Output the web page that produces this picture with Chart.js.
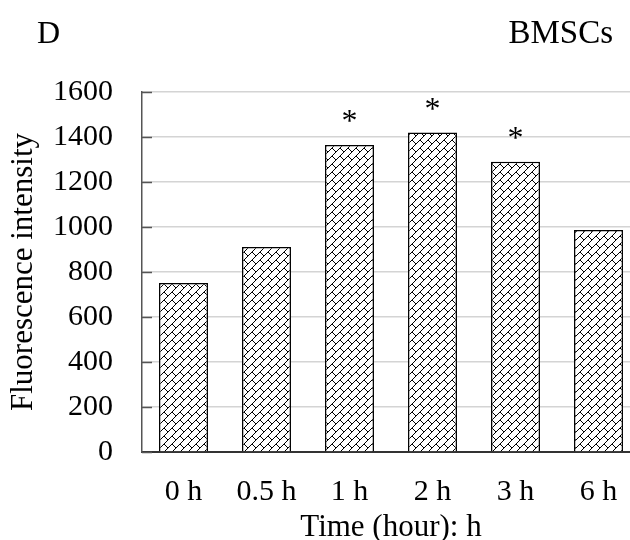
<!DOCTYPE html>
<html>
<head>
<meta charset="utf-8">
<script src="https://cdn.jsdelivr.net/npm/chart.js@4"></script>
<style>
  html, body { margin: 0; padding: 0; background: #fff; overflow: hidden; }
  #wrap { width: 630px; height: 540px; overflow: hidden; }
</style>
</head>
<body>
<div id="wrap"><canvas id="chart" width="640" height="540"></canvas></div>
<script>
const categories = ["0 h", "0.5 h", "1 h", "2 h", "3 h", "6 h"];
const values = [751, 911, 1364, 1420, 1290, 987];
const stars = ["", "", "*", "*", "*", ""];
const yMin = 0, yMax = 1600, yStep = 200;

const FONT = "'Liberation Serif', 'Times New Roman', serif";

// brick-like diagonal hatch
function makePattern() {
  const c = document.createElement("canvas");
  c.width = 8; c.height = 8;
  const g = c.getContext("2d");
  g.fillStyle = "#fff";
  g.fillRect(0, 0, 8, 8);
  g.strokeStyle = "#000";
  g.lineWidth = 1;
  g.beginPath();
  g.moveTo(-1, 9); g.lineTo(9, -1);
  g.moveTo(-1, 1); g.lineTo(1, -1);
  g.moveTo(7, 9); g.lineTo(9, 7);
  g.moveTo(4, 4); g.lineTo(8, 8);
  g.stroke();
  return g.createPattern(c, "repeat");
}

const extras = {
  id: "extras",
  afterDatasetsDraw(chart) {
    const ctx = chart.ctx;
    const y = chart.scales.y;
    const area = chart.chartArea;
    ctx.save();
    // inward tick marks on the y axis
    ctx.strokeStyle = "#555";
    ctx.lineWidth = 1.5;
    y.ticks.forEach(t => {
      const py = Math.round(y.getPixelForValue(t.value)) + 0.5;
      ctx.beginPath();
      ctx.moveTo(area.left, py);
      ctx.lineTo(area.left + 10, py);
      ctx.stroke();
    });
    // asterisks
    ctx.fillStyle = "#000";
    ctx.font = "32px " + FONT;
    ctx.textAlign = "center";
    ctx.textBaseline = "alphabetic";
    chart.getDatasetMeta(0).data.forEach((bar, i) => {
      if (stars[i]) ctx.fillText(stars[i], bar.x, bar.y - 14);
    });
    // panel letter and cell type
    ctx.font = "32px " + FONT;
    ctx.textAlign = "left";
    ctx.fillText("D", 37, 43);
    ctx.font = "33px " + FONT;
    ctx.textAlign = "right";
    ctx.fillText("BMSCs", 613, 43);
    ctx.restore();
  }
};

new Chart(document.getElementById("chart"), {
  type: "bar",
  data: {
    labels: categories,
    datasets: [{
      data: values,
      backgroundColor: makePattern(),
      borderColor: "#000",
      borderWidth: 1.5,
      barPercentage: 0.59,
      categoryPercentage: 1
    }]
  },
  options: {
    responsive: false,
    animation: false,
    layout: { padding: { top: 92, left: 0, right: 0, bottom: 0 } },
    plugins: { legend: { display: false }, tooltip: { enabled: false } },
    scales: {
      x: {
        afterFit: s => { s.height = 88; },
        grid: { display: false, drawTicks: false },
        border: { color: "#333", width: 2 },
        ticks: { color: "#000", font: { family: FONT, size: 30 }, padding: 22, maxRotation: 0 },
        title: { display: true, text: "Time (hour): h", color: "#000", font: { family: FONT, size: 31 }, padding: { top: 0, bottom: -6 } }
      },
      y: {
        min: yMin, max: yMax,
        afterFit: s => { s.width = 142; },
        grid: { color: "#d4d4d4", lineWidth: 1.5, drawTicks: false },
        border: { color: "#555", width: 1.5 },
        ticks: { stepSize: yStep, color: "#000", font: { family: FONT, size: 30 }, padding: 29, callback: v => String(v) },
        title: { display: true, text: "Fluorescence intensity", color: "#000", font: { family: FONT, size: 31 }, padding: { top: 5, bottom: 0 } }
      }
    }
  },
  plugins: [extras]
});
</script>
</body>
</html>
